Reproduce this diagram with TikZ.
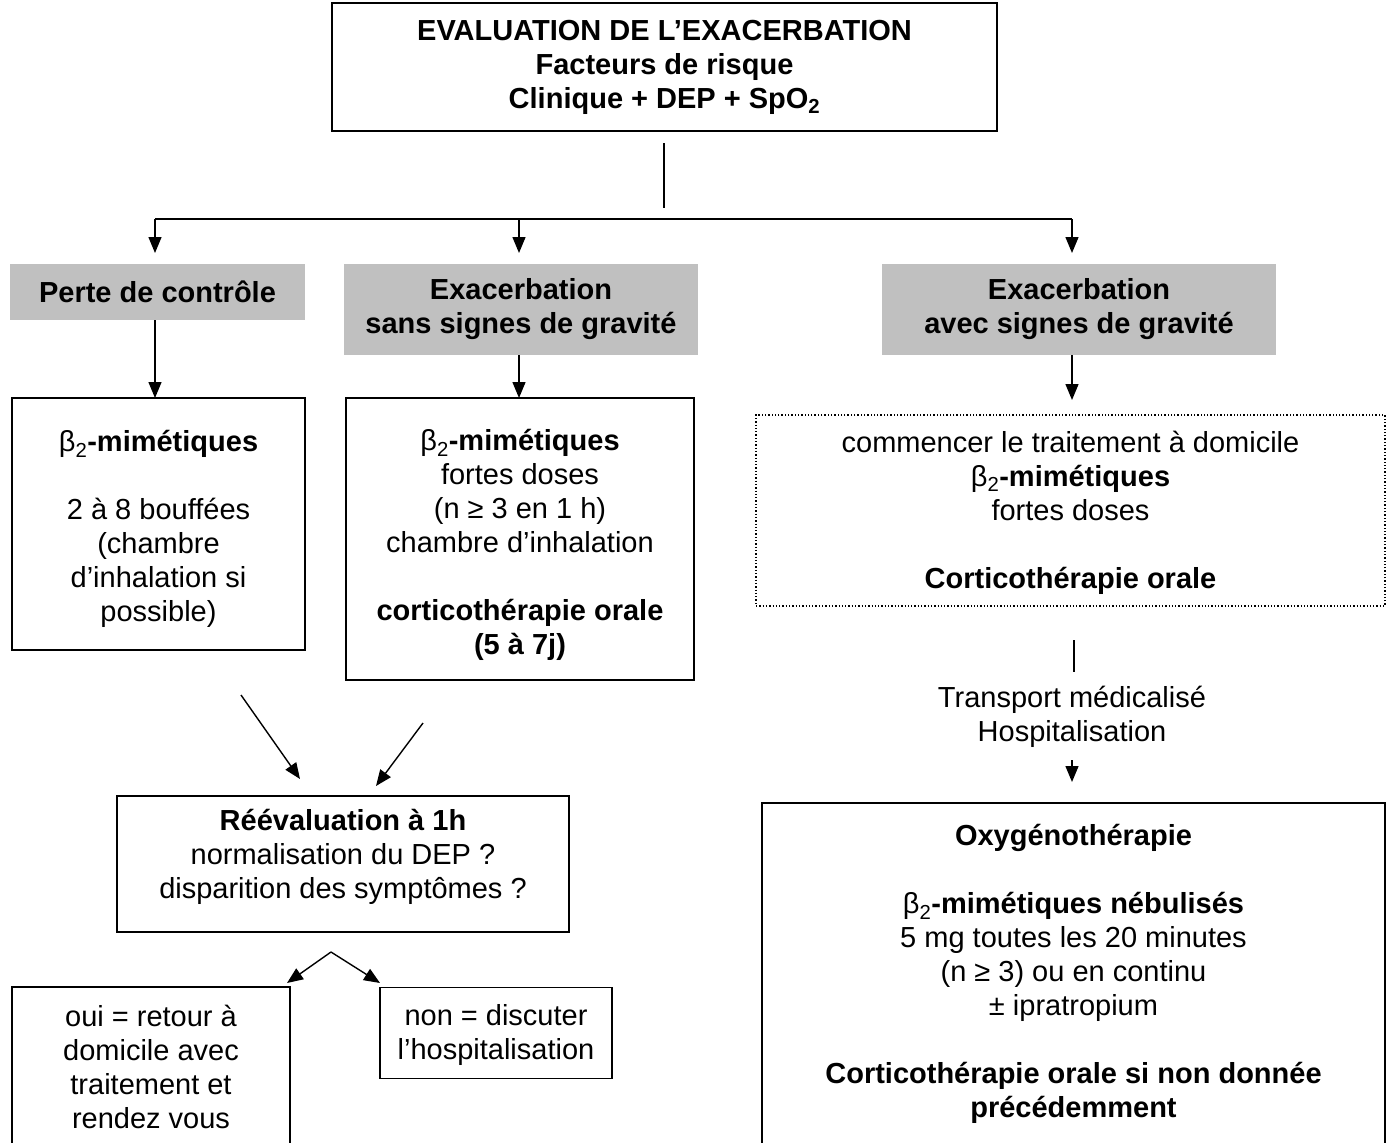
\documentclass[tikz,border=0pt]{standalone}
\usepackage{fontspec}
\setmainfont{Liberation Sans}
\usetikzlibrary{arrows.meta,calc}
\definecolor{boxgray}{RGB}{192,192,192}
\newcommand{\btwo}{{\mdseries β\textsubscript{2}}}
\begin{document}
\begin{tikzpicture}[x=1pt,y=-1pt,
  every node/.style={font=\fontsize{29}{34}\selectfont, align=center, inner sep=0pt},
  framebox/.style={draw, line width=1.3pt},
  dotbox/.style={draw, line width=1.3pt, dotted},
  graybox/.style={fill=boxgray},
  conn/.style={line width=1.4pt},
  arr/.style={line width=1.4pt, -{Triangle[length=16pt,width=13pt]}}
]
\useasboundingbox (0,0) rectangle (1390,1143);

% boxes
\node[framebox, minimum width=665pt, minimum height=128pt] (top) at (664.5,67)
  {\bfseries EVALUATION DE L’EXACERBATION\\ \bfseries Facteurs de risque\\ \bfseries Clinique + DEP + SpO\textsubscript{2}};

\node[graybox, minimum width=295pt, minimum height=56pt] (g1) at (157.5,292)
  {\bfseries Perte de contrôle};
\node[graybox, minimum width=354pt, minimum height=91pt] (g2) at (521,309.5)
  {\bfseries Exacerbation\\ \bfseries sans signes de gravité};
\node[graybox, minimum width=394pt, minimum height=91pt] (g3) at (1079,309.5)
  {\bfseries Exacerbation\\ \bfseries avec signes de gravité};

\node[framebox, minimum width=293pt, minimum height=252pt] (m1) at (158.5,524) {};
\node (m1t) at ([yshift=-5pt]m1.center)
  {\btwo\textbf{-mimétiques}\\[34pt] 2 à 8 bouffées\\ (chambre\\ d’inhalation si\\ possible)};
\node[framebox, minimum width=348pt, minimum height=282pt] (m2) at (520,539) {};
\node (m2t) at ([yshift=-6pt]m2.center)
  {\btwo\textbf{-mimétiques}\\ fortes doses\\ (n ≥ 3 en 1 h)\\ chambre d’inhalation\\[34pt] \textbf{corticothérapie orale}\\ \textbf{(5 à 7j)}};
\node[dotbox, minimum width=629pt, minimum height=191pt] (m3) at (1070.5,510.5) {};
\node (m3t) at ([yshift=-2pt]m3.center)
  {commencer le traitement à domicile\\ \btwo\textbf{-mimétiques}\\ fortes doses\\[34pt] \textbf{Corticothérapie orale}};

\node (tr) at (1072,717) {Transport médicalisé\\ Hospitalisation};

\node[framebox, minimum width=623pt, minimum height=342pt] (big) at (1073.5,974)
  {\textbf{Oxygénothérapie}\\[34pt] \btwo\textbf{-mimétiques nébulisés}\\ 5 mg toutes les 20 minutes\\ (n ≥ 3) ou en continu\\ ± ipratropium\\[34pt] \textbf{Corticothérapie orale si non donnée}\\ \textbf{précédemment}};

\node[framebox, minimum width=452pt, minimum height=136pt] (reev) at (343,864) {};
\node (reevt) at ([yshift=7pt]reev.center)
  {\textbf{Réévaluation à 1h}\\ normalisation du DEP ?\\ disparition des symptômes ?};

\node[framebox, minimum width=278pt, minimum height=160pt] (oui) at (151,1067)
  {oui = retour à\\ domicile avec\\ traitement et\\ rendez vous};
\node[framebox, minimum width=232pt, minimum height=91pt] (non) at (496,1033) {};
\node (nont) at ([yshift=-2pt]non.center)
  {non = discuter\\ l’hospitalisation};

% coordinates
\coordinate (v1) at (664,143);
\coordinate (v2) at (664,208);
\coordinate (busL) at (155,219);
\coordinate (busM) at (519,219);
\coordinate (busR) at (1072,219);
\coordinate (t1) at (155,253);
\coordinate (t2) at (519,253);
\coordinate (t3) at (1072,253);
\coordinate (s1) at (155,320);
\coordinate (e1) at (155,398);
\coordinate (s2) at (519,355);
\coordinate (e2) at (519,398);
\coordinate (s3) at (1072,355);
\coordinate (e3) at (1072,400);
\coordinate (h1) at (1074,640);
\coordinate (h2) at (1074,672);
\coordinate (h3) at (1072,760);
\coordinate (h4) at (1072,782);
\coordinate (d1s) at (241,695);
\coordinate (d1e) at (300,779);
\coordinate (d2s) at (423,723);
\coordinate (d2e) at (376,786);
\coordinate (apex) at (331,952);
\coordinate (yl) at (287,983);
\coordinate (yr) at (380,983);

% connectors
\draw[conn] (v1) -- (v2);
\draw[conn] (busL) -- (busR);
\draw[arr] (busL) -- (t1);
\draw[arr] (busM) -- (t2);
\draw[arr] (busR) -- (t3);
\draw[arr] (s1) -- (e1);
\draw[arr] (s2) -- (e2);
\draw[arr] (s3) -- (e3);
\draw[conn] (h1) -- (h2);
\draw[arr] (h3) -- (h4);
\draw[arr] (d1s) -- (d1e);
\draw[arr] (d2s) -- (d2e);
\draw[arr] (apex) -- (yl);
\draw[arr] (apex) -- (yr);
\end{tikzpicture}
\end{document}
